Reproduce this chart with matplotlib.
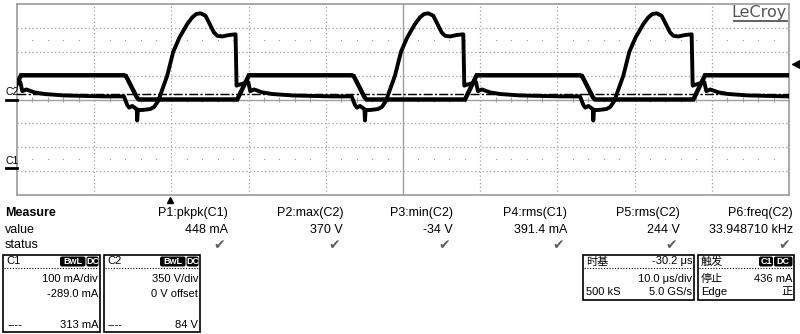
import numpy as np
import matplotlib.pyplot as plt
from matplotlib.patches import Rectangle, FancyBboxPatch
from matplotlib.transforms import blended_transform_factory as blend

plt.rcParams['font.family'] = ['Liberation Sans', 'Noto Sans CJK SC', 'DejaVu Sans']

# scope settings
t_div = 10.0                          # us/div
t_left = -19.8                        # us at left edge of the screen
c1_scale, c1_offset = 100.0, -289.0   # mA/div, mA
c2_scale, c2_offset = 350.0, 0.0      # V/div, V
cursor_c1 = 313.0                     # mA
cursor_c2 = 84.0                      # V
trig_level = 436.0                    # mA

# one switching period, time taken from the C2 falling edge (us)
c2_t = [0.0, 0.26, 1.68, 1.94, 14.68, 16.19]
c2_v = [355, 345, 30, 0, 0, 355]

c1_t = [0.00, 0.43, 0.69, 1.08, 1.46, 1.66, 1.72, 1.81, 2.37, 3.41, 3.92, 4.44,
        5.61, 6.39, 7.20, 8.20, 8.85, 9.37, 9.92, 10.57, 11.22, 11.66, 12.09,
        12.73, 13.60, 14.46, 14.59, 14.93, 15.58, 16.10, 16.36, 16.88, 17.91,
        19.21, 21.80, 26.98]
c1_i = [302, 266, 255, 262, 253, 249, 201, 245, 245, 249, 258, 283,
        389, 489, 549, 605, 633, 647, 650, 640, 598, 570, 556,
        553, 559, 562, 347, 351, 357, 362, 324, 331, 319,
        312, 306, 302]

# C2 falling edges seen on screen (us)
cycle_start = [-35.47, -5.95, 23.55, 53.13, 82.7]

meas_names = ['P1:pkpk(C1)', 'P2:max(C2)', 'P3:min(C2)', 'P4:rms(C1)', 'P5:rms(C2)', 'P6:freq(C2)']
meas_values = ['448 mA', '370 V', '-34 V', '391.4 mA', '244 V', '33.948710 kHz']


def tile(t, y):
    tt = np.concatenate([s + np.array(t) for s in cycle_start])
    yy = np.concatenate([np.array(y, dtype=float) for s in cycle_start])
    return tt, yy


W, H = 800, 334
fig = plt.figure(figsize=(W / 100, H / 100), dpi=100)
rect = [17 / W, 1 - 195 / H, 772 / W, 191 / H]

# graticule in divisions
gax = fig.add_axes(rect)
gax.set_xlim(0, 10)
gax.set_ylim(-4, 4)
gax.set_xticks([])
gax.set_yticks([])
for s in gax.spines.values():
    s.set_color('#9a9a9a')
    s.set_linewidth(1.2)
grey = '#a0a0a0'
for k in range(1, 10):
    if k != 5:
        gax.axvline(k, color=grey, lw=0.9, ls=(0, (1, 2)))
for k in range(-3, 4):
    if k != 0:
        gax.axhline(k, color=grey, lw=0.9, ls=(0, (1, 2)))
gax.axvline(5, color=grey, lw=1.0)
gax.axhline(0, color=grey, lw=1.0)
minor = np.arange(0.2, 10, 0.2)
minor = minor[np.abs(minor - np.round(minor)) > 0.01]
for yrow in (2.5, -2.5):
    gax.plot(minor, np.full_like(minor, yrow), ls='none', marker='s', ms=0.9, color=grey, mew=0)
gax.vlines(minor, -0.1, 0.1, color=grey, lw=0.8)

# C1 current and C2 voltage
ax1 = fig.add_axes(rect)
ax2 = fig.add_axes(rect)
for a in (ax1, ax2):
    a.set_xlim(t_left, t_left + 10 * t_div)
    a.patch.set_alpha(0)
    a.axis('off')
ax1.set_ylim(-c1_offset - 4 * c1_scale, -c1_offset + 4 * c1_scale)
ax2.set_ylim(-c2_offset - 4 * c2_scale, -c2_offset + 4 * c2_scale)

t2, v2 = tile(c2_t, c2_v)
t1, i1 = tile(c1_t, c1_i)
ax2.plot(t2, v2, color='black', lw=3.2, solid_joinstyle='miter')
ax1.plot(t1, i1, color='black', lw=2.8)

ax1.axhline(cursor_c1, color='black', lw=0.9, ls=(0, (7, 2, 1.5, 2)))
ax2.axhline(cursor_c2, color='black', lw=0.9, ls=(0, (7, 2, 1.5, 2)))

# ground markers, trigger level and trigger position
ax1.plot([-0.014, 0], [0, 0], color='black', lw=2, transform=blend(ax1.transAxes, ax1.transData), clip_on=False)
ax2.plot([-0.014, 0], [0, 0], color='black', lw=2, transform=blend(ax2.transAxes, ax2.transData), clip_on=False)
ax1.plot([1.0085], [trig_level], marker='<', ms=6, color='black', transform=blend(ax1.transAxes, ax1.transData), clip_on=False)
ax1.plot([0], [-0.025], marker='^', ms=5, color='black', transform=blend(ax1.transData, ax1.transAxes), clip_on=False)

# overlay in pixel coordinates for the panel text
ov = fig.add_axes([0, 0, 1, 1])
ov.set_xlim(0, W)
ov.set_ylim(H, 0)
ov.axis('off')
ov.patch.set_alpha(0)

ov.text(5, 92, 'C2', fontsize=7.5, va='center')
ov.text(5, 161, 'C1', fontsize=7.5, va='center')
ov.text(787, 12.5, 'LeCroy', fontsize=11.5, color='#555555', ha='right', va='center', family='DejaVu Sans')
ov.plot([734, 787], [21, 21], color='#555555', lw=1.3)

fs = 9
ov.text(5, 213, 'Measure', fontsize=fs, weight='bold', va='center')
ov.text(5, 230, 'value', fontsize=fs, va='center')
ov.text(5, 245, 'status', fontsize=fs, va='center')
col_x = [228, 343, 453, 567, 680, 793]
for x, name, val in zip(col_x, meas_names, meas_values):
    ov.text(x, 213, name, fontsize=fs, ha='right', va='center')
    ov.text(x, 230, val, fontsize=fs, ha='right', va='center')
    ov.text(x - 3, 245, '\u2714', fontsize=10, ha='right', va='center', color='#606060', family='DejaVu Sans')


def panel(x0, x1, y0, y1):
    ov.add_patch(Rectangle((x0, y0), x1 - x0, y1 - y0, fill=False, ec='black', lw=1.2))
    ov.plot([x0 + 1, x1 - 1], [268, 268], color='black', lw=0.8, ls=(0, (1, 1.5)))


def tag(x0, x1, text):
    ov.add_patch(FancyBboxPatch((x0, 256.5), x1 - x0, 10, boxstyle='round,pad=0,rounding_size=2',
                                fc='black', ec='none'))
    ov.text((x0 + x1) / 2, 261.8, text, fontsize=6.5, color='white', weight='bold', ha='center', va='center')


bf = 8
# channel boxes
for x0, x1, ch, scale, off, cur in [(3, 100, 'C1', '100 mA/div', '-289.0 mA', '313 mA'),
                                     (104, 200, 'C2', '350 V/div', '0 V offset', '84 V')]:
    panel(x0, x1, 255, 332)
    ov.text(x0 + 3, 261.5, ch, fontsize=bf, va='center')
    tag(x1 - 40, x1 - 14.5, 'BwL')
    tag(x1 - 13.5, x1 - 1.5, 'DC')
    ov.text(x1 - 2, 279, scale, fontsize=bf, ha='right', va='center')
    ov.text(x1 - 2, 294, off, fontsize=bf, ha='right', va='center')
    ov.text(x0 + 4, 325, '----', fontsize=bf, va='center')
    ov.text(x1 - 2, 325, cur, fontsize=bf, ha='right', va='center')

# timebase box
panel(583, 694, 255, 300)
ov.text(586, 261.5, '时基', fontsize=bf, va='center')
ov.text(692, 261.5, '-30.2 μs', fontsize=bf, ha='right', va='center')
ov.text(692, 279, '10.0 μs/div', fontsize=bf, ha='right', va='center')
ov.text(586, 292, '500 kS', fontsize=bf, va='center')
ov.text(692, 292, '5.0 GS/s', fontsize=bf, ha='right', va='center')

# trigger box
panel(698, 794, 255, 300)
ov.text(701, 261.5, '触发', fontsize=bf, va='center')
tag(759, 773, 'C1')
tag(774, 792.5, 'DC')
ov.text(792, 279, '436 mA', fontsize=bf, ha='right', va='center')
ov.text(701, 279, '停止', fontsize=bf, va='center')
ov.text(701, 292, 'Edge', fontsize=bf, va='center')
ov.text(792, 292, '正', fontsize=bf, ha='right', va='center')

fig.savefig('out.png', dpi=100, facecolor='white')
